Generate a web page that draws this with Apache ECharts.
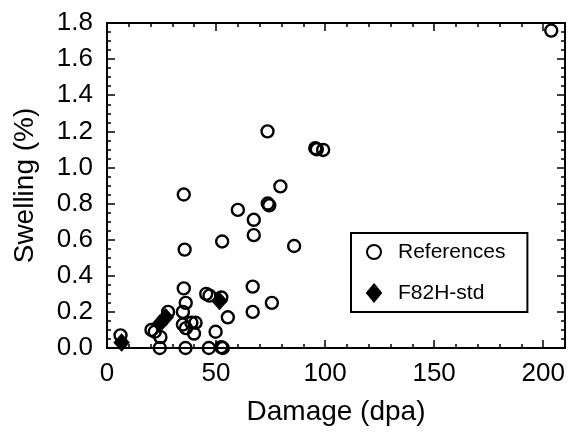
<!DOCTYPE html>
<html>
<head>
<meta charset="utf-8">
<script src="https://cdn.jsdelivr.net/npm/echarts@6/dist/echarts.min.js"></script>
<style>html,body{margin:0;padding:0;background:#fff}#c{width:570px;height:432px}</style>
</head>
<body>
<div id="c"></div>
<script>
// ---- data ----
const refDamage   = [6.2, 20.4, 21.9, 24.5, 24.2, 28.0, 35.2, 36.1, 34.8, 34.8, 38.7, 40.6, 36.2, 39.9, 36.0, 35.2, 35.6, 45.5, 47.0, 52.4, 55.4, 49.8, 46.7, 52.4, 53.1, 52.8, 60.0, 67.3, 67.3, 73.7, 74.4, 79.5, 85.8, 66.8, 66.8, 75.6, 73.6, 95.5, 96.2, 99.1, 203.7];
const refSwelling = [0.07, 0.10, 0.09, 0.06, 0.0, 0.20, 0.33, 0.25, 0.20, 0.13, 0.14, 0.14, 0.11, 0.08, 0.0, 0.85, 0.545, 0.30, 0.29, 0.28, 0.17, 0.09, 0.0, 0.005, 0.0, 0.59, 0.765, 0.71, 0.625, 0.80, 0.79, 0.895, 0.565, 0.34, 0.20, 0.25, 1.20, 1.107, 1.10, 1.097, 1.758];
const f82Damage   = [6.7, 24.2, 26.9, 51.6];
const f82Swelling = [0.03, 0.135, 0.17, 0.26];
const xTicks = [0, 50, 100, 150, 200];
const yTicks = ['0.0','0.2','0.4','0.6','0.8','1.0','1.2','1.4','1.6','1.8'];
const seriesNames = ['References', 'F82H-std'];

const FONT = "'Liberation Sans', Arial, Helvetica, sans-serif";
const zip = (a, b) => a.map((v, i) => [v, b[i]]);

const chart = echarts.init(document.getElementById('c'), null, {renderer: 'canvas'});

function xAx(pos, interval, tickLen, showLabel, showName) {
  return {
    type: 'value', position: pos, min: 0, max: 210, interval: interval, offset: 0,
    axisLine: {show: true, onZero: false, lineStyle: {color: '#000', width: 2}},
    axisTick: {show: true, inside: true, length: tickLen, lineStyle: {color: '#000', width: 1.5}},
    axisLabel: {show: showLabel, showMaxLabel: false, margin: 13, color: '#000', fontSize: 26, fontFamily: FONT,
      formatter: v => (xTicks.indexOf(v) >= 0 ? String(v) : '')},
    splitLine: {show: false},
    name: showName ? 'Damage (dpa)' : '', nameLocation: 'middle', nameGap: 50,
    nameTextStyle: {color: '#000', fontSize: 28, fontFamily: FONT}
  };
}
function yAx(pos, interval, tickLen, showLabel, showName) {
  return {
    type: 'value', position: pos, min: 0, max: 1.8, interval: interval, offset: 0,
    axisLine: {show: true, onZero: false, lineStyle: {color: '#000', width: 2}},
    axisTick: {show: true, inside: true, length: tickLen, lineStyle: {color: '#000', width: 1.5}},
    axisLabel: {show: showLabel, margin: 14, color: '#000', fontSize: 26, fontFamily: FONT,
      formatter: v => yTicks[Math.round(v / 0.2)] || ''},
    splitLine: {show: false},
    name: showName ? 'Swelling (%)' : '', nameLocation: 'middle', nameGap: 68, nameRotate: 90,
    nameTextStyle: {color: '#000', fontSize: 28, fontFamily: FONT}
  };
}

chart.setOption({
  animation: false,
  backgroundColor: '#fff',
  grid: {left: 107, right: 5, top: 23, bottom: 84, containLabel: false},
  xAxis: [
    xAx('bottom', 50, 8, true, true),
    xAx('bottom', 10, 4, false, false),
    xAx('top', 50, 8, false, false),
    xAx('top', 10, 4, false, false)
  ],
  yAxis: [
    yAx('left', 0.2, 8, true, true),
    yAx('left', 0.05, 4, false, false),
    yAx('right', 0.2, 8, false, false),
    yAx('right', 0.05, 4, false, false)
  ],
  legend: {
    orient: 'vertical', left: 351, top: 233,
    padding: [8, 22, 8, 15],
    itemWidth: 14, itemHeight: 17, itemGap: 19,
    borderColor: '#000', borderWidth: 2, backgroundColor: '#fff',
    textStyle: {color: '#000', fontSize: 21, fontFamily: FONT, lineHeight: 22, padding: [0, 0, 0, 12]},
    data: seriesNames
  },
  series: [
    {
      name: seriesNames[0], type: 'scatter', xAxisIndex: 0, yAxisIndex: 0,
      symbol: 'circle', symbolSize: 12,
      itemStyle: {color: 'rgba(255,255,255,0)', borderColor: '#000', borderWidth: 2.4, opacity: 1},
      data: zip(refDamage, refSwelling), z: 3
    },
    {
      name: seriesNames[1], type: 'scatter', xAxisIndex: 0, yAxisIndex: 0,
      symbol: 'diamond', symbolSize: [16, 18],
      itemStyle: {color: '#000', borderColor: '#000', borderWidth: 0.5, opacity: 1},
      data: zip(f82Damage, f82Swelling), z: 4
    }
  ]
});
</script>
</body>
</html>
